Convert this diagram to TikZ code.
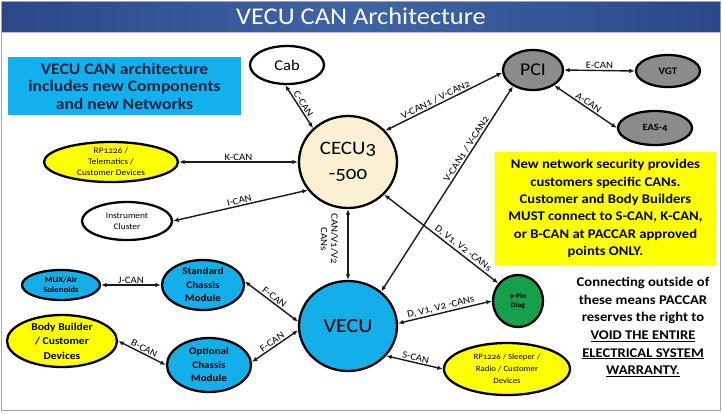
\documentclass[tikz,border=0pt]{standalone}
\usepackage{fontspec}
\setmainfont{Carlito}[Numbers=OldStyle, FakeStretch=1.1]
\usetikzlibrary{shapes.geometric,arrows.meta}
\definecolor{tbarL}{HTML}{2A4887}
\definecolor{tbarM}{HTML}{3E64A8}
\definecolor{cyanbox}{HTML}{12B1EE}
\definecolor{nodeblue}{HTML}{14AEEA}
\definecolor{cream}{HTML}{FCF0D2}
\definecolor{pcigray}{HTML}{8C8C8C}
\definecolor{diaggreen}{HTML}{16A04C}
\definecolor{navytext}{HTML}{1B2440}
\definecolor{ylw}{HTML}{FFFF00}
\begin{document}
\begin{tikzpicture}[x=1pt,y=-1pt,
  ell/.style={ellipse, draw=black, line width=2.3pt, inner sep=-6pt, align=center, text=black},
  conn/.style={{Latex[length=5.5pt,width=4.5pt]}-{Latex[length=5.5pt,width=4.5pt]}, line width=1.4pt, draw=black!90},
  lab/.style={font=\fontsize{9.8}{10.5}\selectfont, inner sep=1.2pt, align=center, text=black}
]
\useasboundingbox (0,0) rectangle (722,413);
\fill[white] (0,0) rectangle (722,413);
\draw[black!35, line width=1.4pt] (1.2,1.2) rectangle (720.3,410.5);
\shade[left color=tbarL, right color=tbarL, middle color=tbarM] (2,2) rectangle (720,31);
\draw[black!25, line width=1pt] (2,32) -- (720,32);
\node[font=\fontsize{24}{24}\selectfont, text=white] (title) at (361,16.5) {VECU CAN Architecture};

% text boxes
\node[fill=cyanbox, minimum width=233pt, minimum height=58pt, inner sep=0pt, align=center,
  text=navytext, font=\bfseries\fontsize{16}{17.5}\selectfont] (intro) at (124.5,86)
  {VECU CAN architecture\\includes new Components\\and new Networks};
\node[fill=ylw, minimum width=221pt, minimum height=113pt, inner sep=0pt, align=center,
  text=black, font=\bfseries\fontsize{13.3}{17.4}\selectfont] (note) at (605.5,208.5)
  {New network security provides\\customers specific CANs.\\Customer and Body Builders\\MUST connect to S-CAN, K-CAN,\\or B-CAN at PACCAR approved\\points ONLY.};
\node[align=center, text=black, font=\bfseries\fontsize{13.3}{17.7}\selectfont] (warn) at (643,327)
  {Connecting outside of\\these means PACCAR\\reserves the right to\\\underline{VOID THE ENTIRE}\\\underline{ELECTRICAL SYSTEM}\\\underline{WARRANTY.}};

% nodes
\node[ell, fill=white, minimum width=74pt, minimum height=38pt, font=\fontsize{15}{16}\selectfont] (cab) at (287,65) {Cab};
\node[ell, fill=cream, minimum width=98pt, minimum height=92pt, font=\fontsize{19}{25}\selectfont] (cecu) at (348,162) {CECU3\\-500};
\node[ell, fill=pcigray, minimum width=60pt, minimum height=40pt, font=\fontsize{18}{18}\selectfont] (pci) at (533,70) {PCI};
\node[ell, fill=pcigray, minimum width=64pt, minimum height=32pt, font=\bfseries\fontsize{10}{11}\selectfont] (vgt) at (668,71) {VGT};
\node[ell, fill=pcigray, minimum width=74pt, minimum height=34pt, font=\bfseries\fontsize{9.5}{11}\selectfont] (eas) at (655,128) {EAS-4};
\node[ell, fill=ylw, minimum width=134pt, minimum height=40pt, font=\fontsize{8.5}{11}\selectfont] (rp1) at (111,162) {RP1226 /\\Telematics /\\Customer Devices};
\node[ell, fill=white, minimum width=90pt, minimum height=38pt, font=\fontsize{8.5}{11}\selectfont] (inst) at (127,221) {Instrument\\Cluster};
\node[ell, fill=nodeblue, minimum width=78pt, minimum height=30pt, font=\bfseries\fontsize{8}{10}\selectfont] (mux) at (61,285) {MUX/Air\\Solenoids};
\node[ell, fill=nodeblue, minimum width=82pt, minimum height=50pt, font=\bfseries\fontsize{10}{13.5}\selectfont] (scm) at (203,285) {Standard\\Chassis\\Module};
\node[ell, fill=ylw, minimum width=110pt, minimum height=52pt, font=\bfseries\fontsize{10.5}{14.5}\selectfont] (bb) at (62,341) {Body Builder\\/ Customer\\Devices};
\node[ell, fill=nodeblue, minimum width=84pt, minimum height=54pt, font=\bfseries\fontsize{10}{13.5}\selectfont] (ocm) at (209,365) {Optional\\Chassis\\Module};
\node[ell, fill=nodeblue, minimum width=98pt, minimum height=90pt, font=\fontsize{20}{22}\selectfont] (vecu) at (348,326) {VECU};
\node[ell, fill=diaggreen, minimum width=50pt, minimum height=52pt, font=\bfseries\fontsize{7}{9.5}\selectfont] (diag) at (518,301) {9-Pin\\Diag};
\node[ell, fill=ylw, minimum width=126pt, minimum height=52pt, font=\fontsize{8}{12}\selectfont] (rp2) at (507,369) {RP1226 / Sleeper /\\Radio / Customer\\Devices};

% connectors
\draw[conn] (cab.265) -- node[lab, sloped, above]{C-CAN} (cecu.136);
\draw[conn] (rp1.east) -- node[lab, above]{K-CAN} (cecu.west);
\draw[conn] (inst.east) -- node[lab, sloped, above]{I-CAN} (cecu.215);
\draw[conn] (cecu.south) -- node[lab, sloped, below=8pt, pos=0.42]{CAN/V1/V2\\CANs} (vecu.north);
\draw[conn] (cecu.40) -- node[lab, sloped, above, pos=0.45]{V-CAN1 / V-CAN2} (pci.185);
\draw[conn] (vecu.46) -- node[lab, sloped, above, pos=0.68]{V-CAN1 / V-CAN2} (pci.219);
\draw[conn] (pci.east) -- node[lab, above]{E-CAN} (vgt.west);
\draw[conn] (pci.-36) -- node[lab, sloped, above]{A-CAN} (eas.west);
\draw[conn] (cecu.-42) -- node[lab, sloped, above, pos=0.66]{D, V1, V2 -CANs} (diag.138);
\draw[conn] (vecu.3) -- node[lab, sloped, above, pos=0.47]{D, V1, V2 -CANs} (diag.west);
\draw[conn] (vecu.-38) -- node[lab, sloped, above]{S-CAN} (rp2.west);
\draw[conn] (mux.east) -- node[lab, above]{J-CAN} (scm.west);
\draw[conn] (scm.5) -- node[lab, sloped, above]{F-CAN} (vecu.175);
\draw[conn] (ocm.4) -- node[lab, sloped, above]{F-CAN} (vecu.185);
\draw[conn] (bb.east) -- node[lab, sloped, above]{B-CAN} (ocm.west);
\end{tikzpicture}
\end{document}
